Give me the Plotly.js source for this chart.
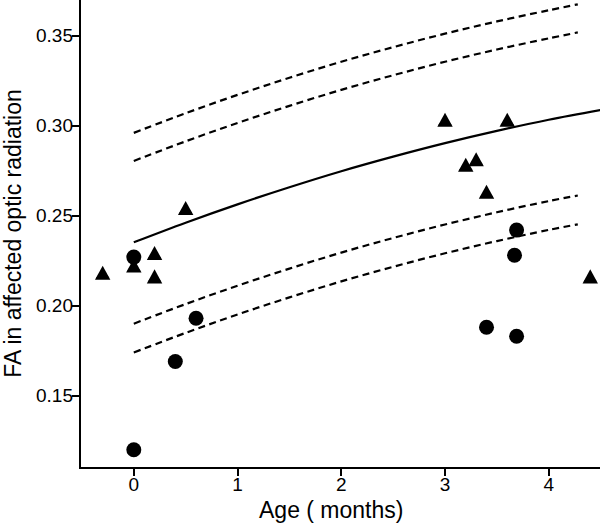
<!DOCTYPE html>
<html><head><meta charset="utf-8">
<script src="https://cdn.plot.ly/plotly-3.0.1.min.js"></script>
<style>html,body{margin:0;padding:0;background:#fff}#chart{width:600px;height:523px}</style>
</head><body><div id="chart"></div>
<script>
// Data
const circleAge = [0, 0, 0.4, 0.6, 3.4, 3.69, 3.67, 3.69];
const circleFA  = [0.227, 0.120, 0.169, 0.193, 0.188, 0.242, 0.228, 0.183];
const triAge = [-0.3, 0, 0.2, 0.2, 0.5, 3.0, 3.2, 3.3, 3.4, 3.6, 4.4];
const triFA  = [0.217, 0.221, 0.228, 0.215, 0.253, 0.302, 0.277, 0.280, 0.262, 0.302, 0.215];
const fitAge = [0, 0.5, 1, 1.5, 2, 2.5, 3, 3.5, 4, 4.5];
const fitFA  = [0.2352, 0.2461, 0.2563, 0.2658, 0.2747, 0.2828, 0.2903, 0.2971, 0.3033, 0.3087];
const bandAge = [0, 0.5, 1, 1.5, 2, 2.5, 3, 3.5, 4, 4.28];
const outerUpper = [0.2960, 0.3069, 0.3171, 0.3266, 0.3355, 0.3436, 0.3511, 0.3579, 0.3641, 0.3674];
const innerUpper = [0.2804, 0.2913, 0.3015, 0.3110, 0.3199, 0.3280, 0.3355, 0.3423, 0.3485, 0.3518];
const innerLower = [0.1900, 0.2009, 0.2111, 0.2206, 0.2295, 0.2376, 0.2451, 0.2519, 0.2581, 0.2612];
const outerLower = [0.1740, 0.1849, 0.1951, 0.2046, 0.2135, 0.2216, 0.2291, 0.2359, 0.2421, 0.2452];
const xTicks = [0, 1, 2, 3, 4];
const yTicks = [0.15, 0.20, 0.25, 0.30, 0.35];
const xTitle = 'Age ( months)';
const yTitle = 'FA in affected optic radiation';

const FONT = '"Liberation Sans", Arial, Helvetica, sans-serif';
const X_RANGE = [-0.509, 4.494];
const Y_RANGE = [0.1104, 0.3698];
const dashLine = {color: '#000', width: 2.2, dash: '7px,4.5px', shape: 'spline'};

const traces = [
  {x: bandAge, y: outerUpper, mode: 'lines', line: dashLine, hoverinfo: 'skip'},
  {x: bandAge, y: innerUpper, mode: 'lines', line: dashLine, hoverinfo: 'skip'},
  {x: bandAge, y: innerLower, mode: 'lines', line: dashLine, hoverinfo: 'skip'},
  {x: bandAge, y: outerLower, mode: 'lines', line: dashLine, hoverinfo: 'skip'},
  {x: fitAge, y: fitFA, mode: 'lines', line: {color: '#000', width: 2.2, shape: 'spline'}},
  {x: triAge, y: triFA, mode: 'markers', marker: {symbol: 'triangle-up', size: 11.5, color: '#000', line: {width: 0}}},
  {x: circleAge, y: circleFA, xaxis: 'x2', yaxis: 'y2', mode: 'markers', marker: {symbol: 'circle', size: 15, color: '#000', line: {width: 0}}}
];

// equilateral-style triangles (R pch 17 look), anchored at the data values
const shapes = triAge.map((a, i) => ({
  type: 'path', xref: 'x', yref: 'y',
  xsizemode: 'pixel', ysizemode: 'pixel',
  xanchor: a, yanchor: triFA[i],
  path: 'M-7.7,-4.7 L7.7,-4.7 L0,9.4 Z',
  fillcolor: '#000', line: {width: 0}, layer: 'above'
}));

const tickFont = {family: FONT, size: 19, color: '#000'};
const layout = {
  width: 600, height: 523,
  margin: {l: 81, r: 0, t: 0, b: 56, pad: 0},
  paper_bgcolor: '#fff', plot_bgcolor: '#fff',
  showlegend: false,
  font: {family: FONT, color: '#000'},
  // main axes: lines + outside tick marks
  xaxis: {
    range: X_RANGE, tickvals: xTicks, showticklabels: false,
    showline: true, linecolor: '#000', linewidth: 2, mirror: false,
    ticks: 'outside', ticklen: 7, tickwidth: 2, tickcolor: '#000',
    showgrid: false, zeroline: false
  },
  yaxis: {
    range: Y_RANGE, tickvals: yTicks, showticklabels: false,
    showline: true, linecolor: '#000', linewidth: 2, mirror: false,
    ticks: 'outside', ticklen: 7, tickwidth: 2, tickcolor: '#000',
    showgrid: false, zeroline: false,
    title: {text: yTitle, font: {family: FONT, size: 23, color: '#000'}, standoff: 46}
  },
  // overlaid axes: tick labels placed close to the tick marks
  xaxis2: {
    overlaying: 'x', anchor: 'y2', side: 'bottom',
    range: X_RANGE, tickvals: xTicks, ticktext: xTicks.map(String),
    ticks: '', showline: false, showgrid: false, zeroline: false,
    ticklabelstandoff: 4, tickfont: tickFont
  },
  yaxis2: {
    overlaying: 'y', anchor: 'x2', side: 'left',
    range: Y_RANGE, tickvals: yTicks, ticktext: yTicks.map(v => v.toFixed(2)),
    ticks: '', showline: false, showgrid: false, zeroline: false,
    ticklabelstandoff: 7, tickfont: tickFont
  },
  annotations: [{
    text: xTitle, xref: 'x', yref: 'paper', x: 1.905, y: 0,
    yshift: -43, xanchor: 'center', yanchor: 'middle', showarrow: false,
    font: {family: FONT, size: 23, color: '#000'}
  }],
  shapes: shapes
};

Plotly.newPlot('chart', traces, layout, {displayModeBar: false, staticPlot: true});
</script>
</body></html>
